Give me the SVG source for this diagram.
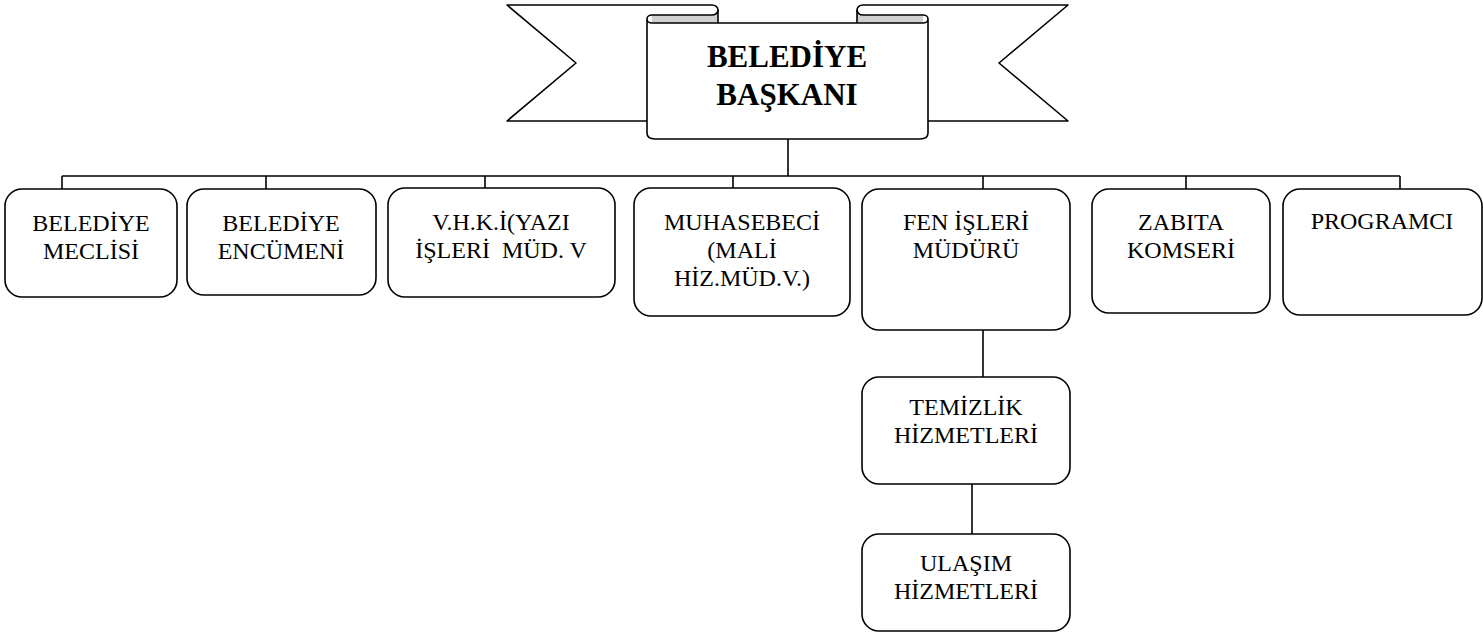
<svg xmlns="http://www.w3.org/2000/svg" width="1483" height="637" viewBox="0 0 1483 637">
<style>
.ln{fill:none;stroke:#000;stroke-width:1.6;stroke-linejoin:round;stroke-linecap:butt}
.box{fill:#fff;stroke:#000;stroke-width:1.6}
.gray{fill:#d0d0d0;stroke:none}
.t{font-family:"Liberation Serif","Times New Roman",serif;font-size:24px;fill:#000;text-anchor:middle;white-space:pre}
.title{font-family:"Liberation Serif","Times New Roman",serif;font-size:31px;font-weight:bold;fill:#000;text-anchor:middle}
</style>
<rect width="1483" height="637" fill="#fff"/>
<g id="baskan">
  <path class="gray" d="M652 15 L712 15 A6 5 0 0 0 718 10 L718 23 L652 23 Z"/>
  <path class="gray" d="M923 15 L863 15 A6 5 0 0 1 857 10 L857 23 L923 23 Z"/>
  <path class="ln" d="M647 121 L507 121 L576 63 L507 5 L712 5 A6 5 0 0 1 712 15 L652 15"/>
  <path class="ln" d="M718 10 L718 23"/>
  <path class="ln" d="M928 121 L1068 121 L999 63 L1068 5 L863 5 A6 5 0 0 0 863 15 L923 15"/>
  <path class="ln" d="M857 10 L857 23"/>
  <path class="box" d="M647 19 L647 133 Q647 139 655 139 L920 139 Q928 139 928 133 L928 19 A5 4 0 0 1 923 23 L652 23 A5 4 0 0 1 647 19 Z"/>
  <path class="ln" d="M647 19 A5 4 0 0 1 652 15"/>
  <path class="ln" d="M923 15 A5 4 0 0 1 928 19"/>
  <text class="title" x="787" y="67">BELEDİYE</text>
  <text class="title" x="787" y="105">BAŞKANI</text>
</g>
<g id="connectors">
  <path class="ln" d="M788 139 L788 176"/>
  <path class="ln" d="M62 176 L1400 176"/>
  <path class="ln" d="M62 176 L62 194"/>
  <path class="ln" d="M266 176 L266 189"/>
  <path class="ln" d="M485 176 L485 188"/>
  <path class="ln" d="M733 176 L733 188"/>
  <path class="ln" d="M983 176 L983 189"/>
  <path class="ln" d="M1186 176 L1186 189"/>
  <path class="ln" d="M1400 176 L1400 189"/>
  <path class="ln" d="M983 330 L983 377"/>
  <path class="ln" d="M972 484 L972 534"/>
</g>
<g id="meclis">
  <rect class="box" x="5" y="189" width="172" height="108" rx="17"/>
  <text class="t" x="91" y="231">BELEDİYE</text>
  <text class="t" x="91" y="259">MECLİSİ</text>
</g>
<g id="encumen">
  <rect class="box" x="187" y="189" width="189" height="106" rx="17"/>
  <text class="t" x="281" y="231">BELEDİYE</text>
  <text class="t" x="281" y="259">ENCÜMENİ</text>
</g>
<g id="vhki">
  <rect class="box" x="388" y="188" width="227" height="109" rx="17"/>
  <text class="t" x="501" y="230">V.H.K.İ(YAZI</text>
  <text class="t" x="501" y="258">İŞLERİ  MÜD. V</text>
</g>
<g id="muhasebeci">
  <rect class="box" x="634" y="188" width="216" height="128" rx="17"/>
  <text class="t" x="742" y="230">MUHASEBECİ</text>
  <text class="t" x="742" y="258">(MALİ</text>
  <text class="t" x="742" y="286">HİZ.MÜD.V.)</text>
</g>
<g id="fen">
  <rect class="box" x="862" y="189" width="208" height="141" rx="17"/>
  <text class="t" x="966" y="230">FEN İŞLERİ</text>
  <text class="t" x="966" y="258">MÜDÜRÜ</text>
</g>
<g id="zabita">
  <rect class="box" x="1092" y="189" width="178" height="124" rx="17"/>
  <text class="t" x="1181" y="230">ZABITA</text>
  <text class="t" x="1181" y="258">KOMSERİ</text>
</g>
<g id="programci">
  <rect class="box" x="1283" y="189" width="199" height="126" rx="17"/>
  <text class="t" x="1382" y="229">PROGRAMCI</text>
</g>
<g id="temizlik">
  <rect class="box" x="862" y="377" width="208" height="107" rx="17"/>
  <text class="t" x="966" y="415">TEMİZLİK</text>
  <text class="t" x="966" y="443">HİZMETLERİ</text>
</g>
<g id="ulasim">
  <rect class="box" x="862" y="534" width="208" height="97" rx="17"/>
  <text class="t" x="966" y="571">ULAŞIM</text>
  <text class="t" x="966" y="599">HİZMETLERİ</text>
</g>
</svg>
